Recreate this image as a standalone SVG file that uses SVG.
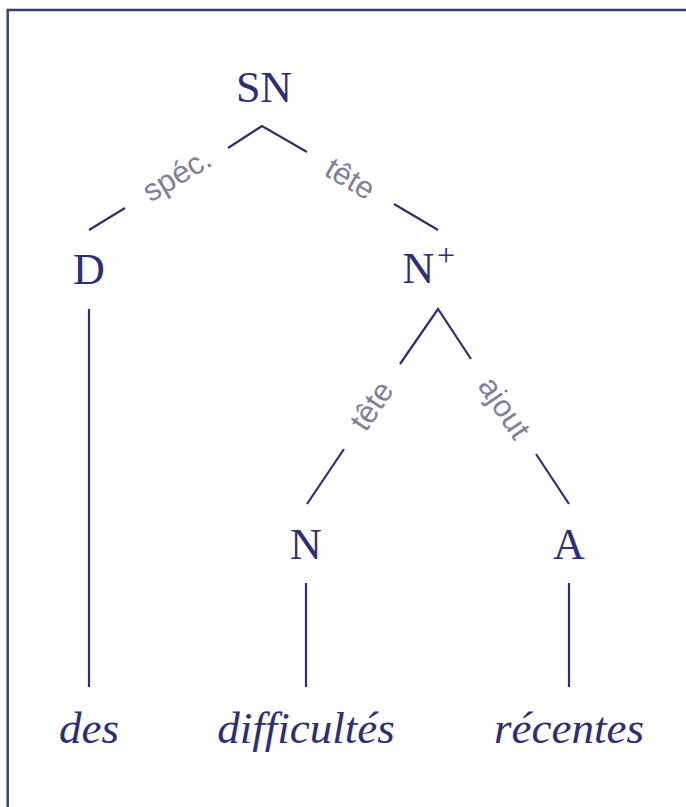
<svg xmlns="http://www.w3.org/2000/svg" width="686" height="807" viewBox="0 0 686 807">
<style>
.node{font-family:"Liberation Serif","Times New Roman",serif;font-size:44px;fill:#2b2f78;text-anchor:middle}
.sup{font-family:"Liberation Serif","Times New Roman",serif;font-size:32px;fill:#2b2f78}
.word{font-family:"Liberation Serif","Times New Roman",serif;font-style:italic;font-size:45px;fill:#2b2f78;text-anchor:middle}
.lab{font-family:"Liberation Sans",Arial,sans-serif;font-size:31px;fill:#7d809f;text-anchor:middle}
.edge{stroke:#2c3070;stroke-width:2.2;fill:none;stroke-linecap:butt}
</style>
<rect width="686" height="807" fill="#ffffff"/>
<path d="M7.7,807 V10 H686" fill="none" stroke="#2f3d74" stroke-width="2.4"/>
<g id="connectors">
<polyline class="edge" points="228,148 262,126 307,152"/>
<line class="edge" x1="125" y1="208" x2="89" y2="230"/>
<line class="edge" x1="394" y1="204" x2="438" y2="230"/>
<polyline class="edge" points="400,364 438,309 471,359"/>
<line class="edge" x1="344" y1="449" x2="307" y2="504"/>
<line class="edge" x1="536" y1="454" x2="569" y2="504"/>
<line class="edge" x1="89" y1="309" x2="89" y2="687"/>
<line class="edge" x1="306" y1="583" x2="306" y2="687"/>
<line class="edge" x1="569" y1="583" x2="569" y2="687"/>
<text class="lab" transform="translate(177,175) rotate(-31)" y="10">spéc.</text>
<text class="lab" transform="translate(350,179) rotate(30.6)" y="10">tête</text>
<text class="lab" transform="translate(372,406) rotate(-56)" y="10">tête</text>
<text class="lab" transform="translate(504,408) rotate(56)" y="10">ajout</text>
</g>
<g id="node-SN"><text class="node" x="264" y="102">SN</text></g>
<g id="node-D"><text class="node" x="89" y="284">D</text></g>
<g id="node-Nplus"><text class="node" x="418.5" y="283">N</text><text class="sup" x="437" y="266">+</text></g>
<g id="node-N"><text class="node" x="306" y="559">N</text></g>
<g id="node-A"><text class="node" x="569" y="559">A</text></g>
<g id="word-des"><text class="word" x="89" y="743">des</text></g>
<g id="word-difficultes"><text class="word" x="306" y="743">difficultés</text></g>
<g id="word-recentes"><text class="word" x="569" y="743">récentes</text></g>
</svg>
